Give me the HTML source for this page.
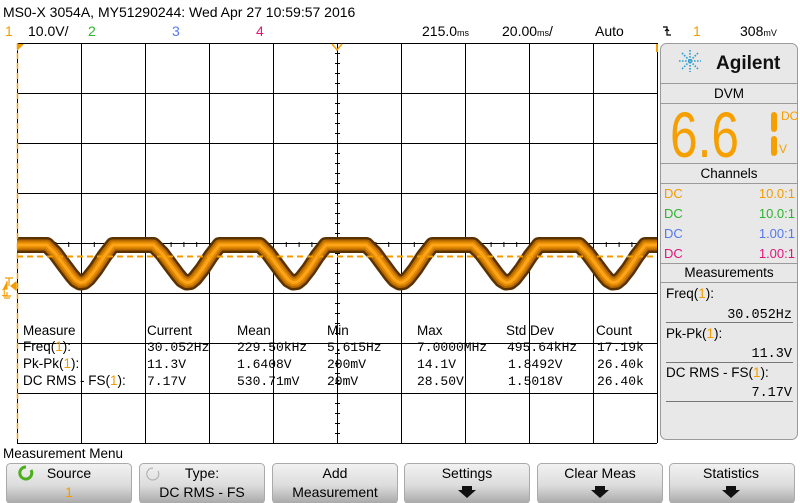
<!DOCTYPE html>
<html><head><meta charset="utf-8"><style>
html,body{margin:0;padding:0;background:#fff;}
svg{display:block;font-family:"Liberation Sans",sans-serif;}
</style></head><body>
<svg id="scope" width="800" height="503" viewBox="0 0 800 503" xmlns="http://www.w3.org/2000/svg">
<defs>
<linearGradient id="btn" x1="0" y1="0" x2="0" y2="1">
<stop offset="0" stop-color="#f2f2f2"/><stop offset="0.55" stop-color="#dcdcdc"/><stop offset="1" stop-color="#a8a8a8"/>
</linearGradient>
</defs>
<text x="3" y="17" font-size="14" fill="#000">MS0-X 3054A, MY51290244: Wed Apr 27 10:59:57 2016</text>
<g font-size="14">
<text x="5" y="36" fill="#f39c00">1</text>
<text x="28" y="36" fill="#000">10.0V/</text>
<text x="88" y="36" fill="#2db42d">2</text>
<text x="172" y="36" fill="#5577ee">3</text>
<text x="256" y="36" fill="#e0157c">4</text>
<text x="422" y="36" fill="#000">215.0<tspan font-size="9">ms</tspan></text>
<text x="502" y="36" fill="#000">20.00<tspan font-size="9">ms</tspan>/</text>
<text x="595" y="36" fill="#000">Auto</text>
<path d="M663 27 h4 v8 h4 M665 31 l2 -2 l2 2" fill="none" stroke="#000" stroke-width="1.2"/>
<text x="693" y="36" fill="#f39c00">1</text>
<text x="740" y="36" fill="#000">308<tspan font-size="9">mV</tspan></text>
</g>
<g id="grid"></g>
<g font-family="'Liberation Mono',monospace" font-size="13">
<g font-family="'Liberation Sans',sans-serif" font-size="13.5">
<text x="23" y="335">Measure</text><text x="147" y="335">Current</text><text x="237" y="335">Mean</text><text x="327" y="335">Min</text><text x="417" y="335">Max</text><text x="506" y="335">Std Dev</text><text x="596" y="335">Count</text>
</g>
<g font-family="'Liberation Sans',sans-serif" font-size="13.5">
<text x="23" y="351">Freq(<tspan fill="#f39c00">1</tspan>):</text>
<text x="23" y="368">Pk-Pk(<tspan fill="#f39c00">1</tspan>):</text>
<text x="23" y="385">DC RMS - FS(<tspan fill="#f39c00">1</tspan>):</text>
</g>
<g>
<text x="147" y="351">30.052Hz</text><text x="237" y="351">229.50kHz</text><text x="327" y="351">5.615Hz</text><text x="417" y="351">7.0000MHz</text><text x="507" y="351">495.64kHz</text><text x="597" y="351">17.19k</text>
<text x="147" y="368">11.3V</text><text x="237" y="368">1.6408V</text><text x="327" y="368">200mV</text><text x="417" y="368">14.1V</text><text x="508" y="368">1.8492V</text><text x="597" y="368">26.40k</text>
<text x="147" y="385">7.17V</text><text x="237" y="385">530.71mV</text><text x="327" y="385">20mV</text><text x="417" y="385">28.50V</text><text x="508" y="385">1.5018V</text><text x="597" y="385">26.40k</text>
</g>
</g>
<g>
<rect x="660.5" y="43.5" width="137" height="396" rx="6" fill="#e8e8e8" stroke="#9a9a9a"/>
<g>
<g stroke="#2a9fd0" stroke-width="1.6" stroke-dasharray="1.6 1.4">
<line x1="690" y1="50" x2="690" y2="72"/><line x1="679" y1="61" x2="701" y2="61"/><line x1="682" y1="53" x2="698" y2="69"/><line x1="698" y1="53" x2="682" y2="69"/>
</g>
<text x="716" y="69" font-size="19" font-weight="bold" fill="#111">Agilent</text>
</g>
<line x1="661" y1="83.5" x2="797" y2="83.5" stroke="#9a9a9a"/>
<text x="729" y="98" font-size="13.5" text-anchor="middle" fill="#000">DVM</text>
<line x1="661" y1="103.5" x2="797" y2="103.5" stroke="#9a9a9a"/>
<g>
<text x="670" y="157" font-family="'Liberation Sans',sans-serif" font-size="64" fill="#f5a000" textLength="69" lengthAdjust="spacingAndGlyphs">6.6</text>
<rect x="771" y="112" width="6" height="20" rx="3" fill="#f5a000"/><rect x="771" y="136" width="6" height="20" rx="3" fill="#f5a000"/>
<text x="781" y="120" font-size="12" fill="#f5a000">DC</text>
<text x="779" y="153" font-size="12" fill="#f5a000">V</text>
</g>
<line x1="661" y1="163.5" x2="797" y2="163.5" stroke="#9a9a9a"/>
<text x="729" y="178" font-size="13.5" text-anchor="middle" fill="#000">Channels</text>
<line x1="661" y1="183.5" x2="797" y2="183.5" stroke="#9a9a9a"/>
<g font-size="13">
<text x="664" y="198" fill="#f39c00">DC</text><text x="795" y="198" fill="#f39c00" text-anchor="end">10.0:1</text>
<text x="664" y="218" fill="#2db42d">DC</text><text x="795" y="218" fill="#2db42d" text-anchor="end">10.0:1</text>
<text x="664" y="238" fill="#5577ee">DC</text><text x="795" y="238" fill="#5577ee" text-anchor="end">1.00:1</text>
<text x="664" y="258" fill="#e0157c">DC</text><text x="795" y="258" fill="#e0157c" text-anchor="end">1.00:1</text>
</g>
<line x1="661" y1="263.5" x2="797" y2="263.5" stroke="#9a9a9a"/>
<text x="729" y="277" font-size="13.5" text-anchor="middle" fill="#000">Measurements</text>
<line x1="661" y1="282.5" x2="797" y2="282.5" stroke="#9a9a9a"/>
<g font-size="13.5">
<text x="666" y="298">Freq(<tspan fill="#f39c00">1</tspan>):</text>
<text x="792" y="318" text-anchor="end" font-family="'Liberation Mono',monospace">30.052Hz</text>
<line x1="666" y1="322.5" x2="793" y2="322.5" stroke="#777"/>
<text x="666" y="338">Pk-Pk(<tspan fill="#f39c00">1</tspan>):</text>
<text x="792" y="357" text-anchor="end" font-family="'Liberation Mono',monospace">11.3V</text>
<line x1="666" y1="362.5" x2="793" y2="362.5" stroke="#777"/>
<text x="666" y="377">DC RMS - FS(<tspan fill="#f39c00">1</tspan>):</text>
<text x="792" y="396" text-anchor="end" font-family="'Liberation Mono',monospace">7.17V</text>
<line x1="666" y1="401.5" x2="793" y2="401.5" stroke="#777"/>
</g>
</g>
<text x="3" y="458" font-size="13.5" fill="#000">Measurement Menu</text>
<g font-size="14" text-anchor="middle">
<g><rect x="6.5" y="463.5" width="125" height="40" rx="4" fill="url(#btn)" stroke="#aaa"/><text x="69" y="478">Source</text><text x="69" y="497" fill="#f39c00">1</text>
<path d="M26 467 a6 6 0 1 0 5 3" fill="none" stroke="#4caf1c" stroke-width="3"/></g>
<g><rect x="139.5" y="463.5" width="125" height="40" rx="4" fill="url(#btn)" stroke="#aaa"/><text x="202" y="478">Type:</text><text x="202" y="497">DC RMS - FS</text>
<path d="M153 468 a6 6 0 1 0 5 3" fill="none" stroke="#aaa" stroke-width="1"/></g>
<g><rect x="272.5" y="463.5" width="125" height="40" rx="4" fill="url(#btn)" stroke="#aaa"/><text x="335" y="478">Add</text><text x="335" y="497">Measurement</text></g>
<g><rect x="404.5" y="463.5" width="125" height="40" rx="4" fill="url(#btn)" stroke="#aaa"/><text x="467" y="478">Settings</text><path d="M458 490h18l-9 8z" fill="#111"/><rect x="462" y="486" width="10" height="4" fill="#111"/></g>
<g><rect x="537.5" y="463.5" width="125" height="40" rx="4" fill="url(#btn)" stroke="#aaa"/><text x="600" y="478">Clear Meas</text><path d="M591 490h18l-9 8z" fill="#111"/><rect x="595" y="486" width="10" height="4" fill="#111"/></g>
<g><rect x="669.5" y="463.5" width="125" height="40" rx="4" fill="url(#btn)" stroke="#aaa"/><text x="731" y="478">Statistics</text><path d="M722 490h18l-9 8z" fill="#111"/><rect x="726" y="486" width="10" height="4" fill="#111"/></g>
</g>
<g id="trace"></g>
<g id="markers"></g>
</svg>
<script>
// Data: one period of channel 1 waveform (phase fraction, volts)
var shapePhase = [0, 0.38, 0.46, 0.54, 0.61, 0.65, 0.69, 0.73, 0.77, 0.84, 0.92, 1.0];
var shapeVolts = [9.0, 9.0, 7.3, 5.0, 3.0, 2.0, 1.5, 1.6, 2.3, 4.2, 6.8, 9.0];
var freqHz = [30.052];
var trigLevelVolts = [6.8];
var timeTicksMs = [0,20,40,60,80,100,120,140,160,180,200];
var voltTicks = [40,30,20,10,0,-10,-20,-30,-40];

var NS = "http://www.w3.org/2000/svg";
var X0 = 17, X1 = 657, Y0 = 43, Y1 = 443;
var msPerDiv = 20, pxPerDiv = 64, voltsPerDiv = 10, pxPerVDiv = 50;
var zeroY = 290;
function xOfMs(ms){ return X0 + ms / msPerDiv * pxPerDiv; }
function yOfV(v){ return zeroY - v / voltsPerDiv * pxPerVDiv; }
function mk(tag, attrs, parent){ var e = document.createElementNS(NS, tag); for (var k in attrs) e.setAttribute(k, attrs[k]); parent.appendChild(e); return e; }

var grid = document.getElementById('grid');
mk('rect', {x:X0, y:Y0, width:X1-X0, height:Y1-Y0, fill:'#fff'}, grid);
timeTicksMs.forEach(function(t){
  var x = xOfMs(t) + 0.5;
  var l = mk('line', {x1:x, y1:Y0, x2:x, y2:Y1, stroke:'#000', 'stroke-width':1}, grid);
  
  
});
voltTicks.forEach(function(v, i){
  var y = Y0 + i * pxPerVDiv + 0.5;
  var l = mk('line', {x1:X0, y1:y, x2:X1, y2:y, stroke:'#000', 'stroke-width':1}, grid);
  
  
});
for (var i = 0; i <= 50; i++) {
  var x = X0 + i * pxPerDiv / 5 + 0.5;
  mk('line', {x1:x, y1:242, x2:x, y2:247, stroke:'#000'}, grid);
}
for (var j = 0; j <= 40; j++) {
  var y = Y0 + j * pxPerVDiv / 5 + 0.5;
  mk('line', {x1:335, y1:y, x2:340, y2:y, stroke:'#000'}, grid);
}

var periodMs = 1000 / freqHz[0];
var offsetMs = -3.3;
var pts = [];
var tEndMs = (X1 - X0) / pxPerDiv * msPerDiv;
for (var c = -1; c < 10; c++) {
  for (var k = 0; k < shapePhase.length; k++) {
    var t = offsetMs + (c + shapePhase[k]) * periodMs;
    if (t < -periodMs || t > tEndMs + periodMs) continue;
    pts.push(xOfMs(t).toFixed(1) + ',' + yOfV(shapeVolts[k]).toFixed(1));
  }
}
var tr = document.getElementById('trace');
var clip = mk('clipPath', {id:'gclip'}, tr);
mk('rect', {x:X0, y:Y0, width:X1-X0, height:Y1-Y0}, clip);
var layers = [['#5a3200',16],['#b86a00',11],['#e08a00',7],['#ffa41a',3]];
layers.forEach(function(L, i){
  var p = mk('polyline', {points:pts.join(' '), fill:'none', stroke:L[0], 'stroke-width':L[1], 'stroke-linejoin':'round', 'clip-path':'url(#gclip)'}, tr);
  
  
});

var m = document.getElementById('markers');
var ty = yOfV(trigLevelVolts[0]) + 0.5;
var tl = mk('line', {x1:X0, y1:ty, x2:X1, y2:ty, stroke:'#f39c00', 'stroke-width':2, 'stroke-dasharray':'6 4'}, m);


var vl = mk('line', {x1:X0+0.5, y1:Y0, x2:X0+0.5, y2:Y1, stroke:'#f39c00', 'stroke-width':1.5, 'stroke-dasharray':'6 4'}, m);


var tm = mk('path', {d:'M17 44 h7 l-7 7 z', fill:'#f39c00'}, m);


var dm = mk('path', {d:'M332 44 l5 6 l5 -6', fill:'none', stroke:'#f39c00', 'stroke-width':1.5}, m);


mk('line', {x1:657, y1:44, x2:657, y2:52, stroke:'#f39c00', 'stroke-width':2}, m);
var gm = mk('path', {d:'M9 286 v-8 M5 278 h8 M3 289 h4 v-8 M11 286 l5 -4 v8 z M7 292 v4 M3 296 h8 M4 298 h6', fill:'#f39c00', stroke:'#f39c00', 'stroke-width':1.2}, m);


var gt = mk('text', {x:1, y:296, 'font-size':11, fill:'#f39c00'}, m);
gt.textContent = '1';


</script>
</body></html>
